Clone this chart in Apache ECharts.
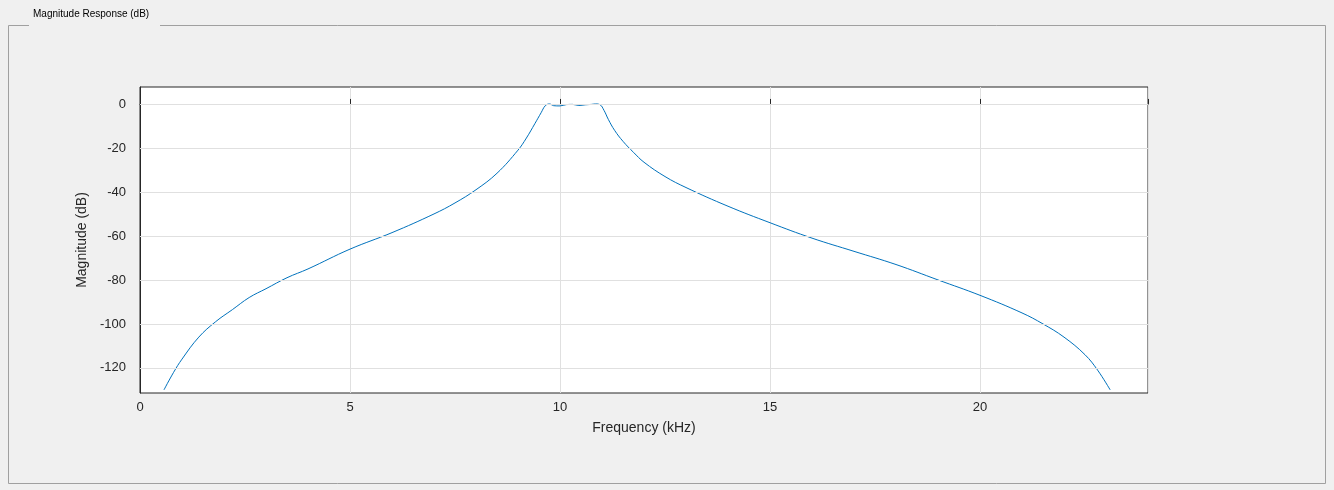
<!DOCTYPE html>
<html><head><meta charset="utf-8">
<script src="https://cdn.jsdelivr.net/npm/echarts@6/dist/echarts.min.js"></script>
<style>html,body{margin:0;background:#f0f0f0}#c{width:1334px;height:490px}</style>
</head><body><div id="c"></div>
<script>
const freqKHz = [0.57,0.8,1.0,1.4,1.8,2.2,2.6,3,3.5,4,5,6,7,7.5,8,8.5,9,9.2,9.4,9.55,9.65,9.75,9.85,10.0,10.15,10.3,10.45,10.6,10.75,10.85,10.95,11.05,11.15,11.3,11.5,11.75,12,12.5,13,14,15,16,17,18,19,20,21,21.5,22,22.5,22.8,23.1];
const magDB   = [-130,-122,-116,-106,-99,-93.5,-88,-84,-79,-75,-66,-58.5,-50,-45,-39,-31.5,-21,-15.5,-9,-4,-0.8,0,-0.8,-0.9,-0.3,-0.2,-0.7,-0.4,-0.2,0,-0.3,-3,-7,-12,-17,-22,-26.5,-33,-38,-46.5,-54,-61,-67,-73,-80,-87,-95,-100,-106,-114,-121,-130];
const xTicks = [0,5,10,15,20];
const yTicks = [0,-20,-40,-60,-80,-100,-120];
const chart = echarts.init(document.getElementById('c'));
chart.setOption({
  backgroundColor:'#f0f0f0',
  animation:false,
  graphic:[
    {type:'rect',shape:{x:8.5,y:25.5,width:1317,height:458},style:{fill:'none',stroke:'#a0a0a0',lineWidth:1},z:0},
    {type:'rect',shape:{x:29,y:20,width:131,height:10},style:{fill:'#f0f0f0'},z:1},
    {type:'text',left:33,top:9,style:{text:'Magnitude Response (dB)',fontSize:10,fill:'#000',fontFamily:'Liberation Sans'},z:2}
  ],
  grid:{left:140,top:87,width:1008,height:306,backgroundColor:'#fff',show:true,borderColor:'#262626',borderWidth:1},
  xAxis:{type:'value',min:0,max:24,interval:5,
    name:'Frequency (kHz)',nameLocation:'middle',nameGap:28,
    nameTextStyle:{fontSize:14,color:'#262626',fontFamily:'Liberation Sans'},
    axisLine:{show:true,lineStyle:{color:'#262626'}},axisTick:{show:true,inside:true,length:5,lineStyle:{color:'#262626'}},
    axisLabel:{color:'#262626',fontSize:13,margin:8,fontFamily:'Liberation Sans',formatter:v=>xTicks.includes(v)?String(v):''},
    splitLine:{show:true,lineStyle:{color:'#e0e0e0'}}},
  yAxis:{type:'value',min:-131.4,max:7.7,
    name:'Magnitude (dB)',nameLocation:'middle',nameGap:40,
    nameTextStyle:{fontSize:14,color:'#262626',fontFamily:'Liberation Sans'},
    axisLine:{show:true,lineStyle:{color:'#262626'}},
    axisTick:{show:true,inside:true,length:5,customValues:yTicks,lineStyle:{color:'#262626'}},
    axisLabel:{color:'#262626',fontSize:13,margin:14,fontFamily:'Liberation Sans',customValues:yTicks},
    splitLine:{show:false}},
  series:[{type:'line',data:freqKHz.map((f,i)=>[f,magDB[i]]),smooth:0.4,showSymbol:false,
    lineStyle:{color:'#0072bd',width:1},clip:true,z:3,
    markLine:{silent:true,symbol:'none',label:{show:false},animation:false,
      lineStyle:{color:'#e0e0e0',type:'solid',width:1},data:yTicks.map(v=>({yAxis:v}))}}]
});
</script></body></html>
